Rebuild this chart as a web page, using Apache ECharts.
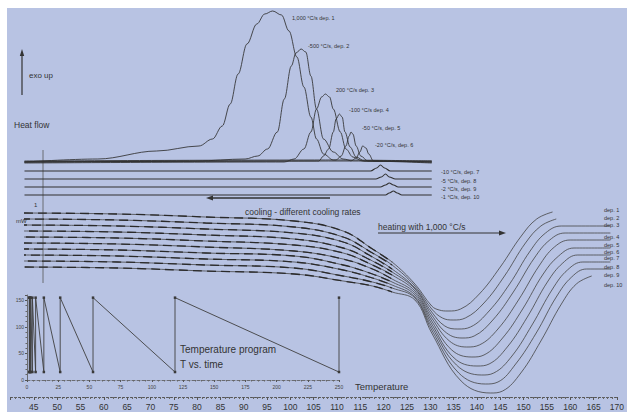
<!DOCTYPE html>
<html><head><meta charset="utf-8">
<script src="https://cdn.jsdelivr.net/npm/echarts@6/dist/echarts.min.js"></script>
<style>
html,body{margin:0;padding:0;background:#fff;}
#c{width:627px;height:412px;background:linear-gradient(#b8c3e3,#b8c3e3) 7px 8px/620px 404px no-repeat,#fff;}
</style></head><body><div id="c"></div>
<script>
// ---------- data (Temperature in °C, heat flow in arbitrary units) ----------
const tempTickLabels = [45,50,55,60,65,70,75,80,85,90,95,100,105,110,115,120,125,130,135,140,145,150,155,160,165,170];
const timeTickLabels = [0,25,50,75,100,125,150,175,200,225,250];
const progTempTickLabels = [0,50,100,150];

const coolLabels = ['1,000 °C/s dep. 1','-500 °C/s, dep. 2','200 °C/s dep. 3','-100 °C/s dep. 4','-50 °C/s, dep. 5','-20 °C/s, dep. 6','-10 °C/s, dep. 7','-5 °C/s, dep. 8','-2 °C/s, dep. 9','-1 °C/s, dep. 10'];
const heatLabels = ['dep. 1','dep. 2','dep. 3','dep. 4','dep. 5','dep. 6','dep. 7','dep. 8','dep. 9','dep. 10'];

const cool1 = [[43,23.5],[58.7,23.8],[71.3,24.6],[80.4,25.1],[83.3,25.8],[85.4,27.1],[87.1,29.3],[88.8,32.3],[90.7,35.3],[92.8,37.3],[94.5,38.3],[96.2,38.6],[98.1,38.2],[99.7,36.6],[101.4,34.0],[102.9,31.0],[104.4,28.0],[105.6,25.8],[107.1,24.3],[109.2,23.7],[130.3,23.6]];
const cool2 = [[43,23.5],[79.7,23.6],[90.3,23.8],[93.0,24.1],[95.1,24.8],[97.2,26.5],[98.7,29.8],[100.2,33.1],[101.2,34.4],[102.3,34.8],[103.3,34.5],[104.4,32.1],[105.6,28.8],[107.1,25.8],[109.2,24.5],[111.3,23.8],[113.4,23.6],[130.3,23.5]];
const cool3 = [[43,23.4],[98.7,23.5],[100.8,23.8],[102.9,24.8],[104.4,26.5],[105.6,28.8],[106.7,30.0],[107.5,30.3],[108.4,30.0],[109.2,28.8],[110.7,26.5],[111.9,24.8],[113.4,24.0],[115.5,23.6],[130.3,23.4]];
const cool4 = [[43,23.5],[106.1,23.6],[107.1,24.1],[108.2,24.8],[109.2,26.5],[109.8,27.8],[110.5,28.3],[111.1,28.0],[111.7,26.5],[112.8,25.0],[114.1,24.0],[115.9,23.6],[130.3,23.5]];
const cool5 = [[43,23.6],[109.8,23.7],[110.9,24.1],[111.9,25.1],[112.6,26.1],[113.0,26.5],[113.4,26.3],[114.1,25.1],[115.1,24.1],[116.6,23.6],[130.3,23.6]];
const cool6 = [[43,23.5],[113.0,23.6],[114.1,23.9],[114.9,24.5],[115.5,25.1],[116.2,24.9],[116.8,24.3],[117.8,23.6],[130.3,23.5]];
const cool7 = [[43,22.6],[117.2,22.6],[118.5,22.9],[119.3,23.2],[120.2,22.9],[121.4,22.6],[130.3,22.6]];
const cool8 = [[43,21.8],[118.3,21.8],[119.5,22.0],[120.4,22.3],[121.2,22.0],[122.5,21.8],[130.3,21.8]];
const cool9 = [[43,21.0],[119.3,21.0],[120.4,21.2],[121.2,21.4],[122.1,21.2],[123.1,21.0],[130.3,21.0]];
const cool10 = [[43,20.2],[120.4,20.2],[121.2,20.4],[122.1,20.6],[122.9,20.4],[123.9,20.2],[130.3,20.2]];

const heat1 = [[42.9,18.4],[62.9,18.3],[81.8,18.0],[100.8,17.6],[111.3,16.6],[117.6,14.8],[121.8,13.5],[126.7,11.3],[130.3,9.1],[131.9,8.7],[133.8,8.6],[136.5,8.8],[140.5,10.3],[145.0,13.0],[149.5,16.1],[152.8,17.8],[156.2,18.5]];
const heat2 = [[42.9,17.8],[62.9,17.7],[81.8,17.4],[100.8,17.0],[111.3,16.0],[117.6,14.4],[121.8,13.2],[126.7,11.1],[130.3,8.8],[132.6,7.9],[134.9,7.7],[137.5,7.9],[141.5,9.4],[145.9,12.1],[150.4,15.4],[153.7,17.1],[157.0,17.8]];
const heat3 = [[42.9,17.2],[62.9,17.1],[81.8,16.8],[100.8,16.4],[111.3,15.5],[117.6,14.0],[121.8,12.8],[126.7,10.9],[130.3,8.5],[133.1,7.1],[135.9,6.8],[138.6,7.0],[142.6,8.6],[147.0,11.3],[151.4,14.6],[154.7,16.4],[158.1,17.1],[168.6,17.1]];
const heat4 = [[42.9,16.6],[62.9,16.5],[81.8,16.2],[100.8,15.8],[111.3,14.9],[117.6,13.6],[121.8,12.5],[126.7,10.8],[130.3,8.2],[133.5,6.4],[136.8,5.9],[139.4,6.1],[143.4,7.7],[147.8,10.5],[152.3,13.9],[155.6,15.7],[158.9,16.4],[168.6,16.4]];
const heat5 = [[42.9,16.0],[62.9,15.9],[81.8,15.6],[100.8,15.2],[111.3,14.4],[117.6,13.2],[121.8,12.2],[126.7,10.6],[130.3,7.9],[134.1,5.6],[137.8,5.0],[140.5,5.2],[144.5,6.8],[148.9,9.7],[153.3,13.1],[156.6,15.0],[160.0,15.7],[168.6,15.7]];
const heat6 = [[42.9,15.4],[62.9,15.3],[81.8,15.0],[100.8,14.6],[111.3,13.8],[117.6,12.8],[121.8,11.8],[126.7,10.4],[130.3,7.6],[134.6,4.7],[138.9,4.0],[141.5,4.2],[145.5,5.9],[149.8,8.8],[154.2,12.3],[157.5,14.1],[160.8,14.9],[168.6,14.9]];
const heat7 = [[42.9,14.8],[62.9,14.7],[81.8,14.4],[100.8,14.1],[111.3,13.2],[117.6,12.3],[121.8,11.5],[126.7,10.2],[130.3,7.3],[135.1,3.9],[140.0,3.1],[142.6,3.3],[146.5,5.0],[150.8,8.0],[155.1,11.5],[158.4,13.4],[161.6,14.2],[168.6,14.2]];
const heat8 = [[42.9,14.2],[62.9,14.1],[81.8,13.8],[100.8,13.5],[111.3,12.7],[117.6,11.9],[121.8,11.2],[126.7,10.0],[130.3,7.0],[135.6,3.2],[141.0,2.2],[143.6,2.4],[147.5,4.1],[151.8,7.2],[156.2,10.8],[159.4,12.7],[162.7,13.5],[168.6,13.5]];
const heat9 = [[42.9,13.6],[62.9,13.5],[81.8,13.2],[100.8,12.9],[111.3,12.1],[117.6,11.5],[121.8,10.9],[126.7,9.9],[130.3,6.7],[136.1,2.4],[141.8,1.3],[144.5,1.5],[148.3,3.3],[152.7,6.4],[157.0,10.0],[160.3,12.0],[163.5,12.8],[168.6,12.8]];
const heat10 = [[42.9,13.0],[62.9,12.9],[81.8,12.6],[100.8,12.3],[111.3,11.6],[117.6,11.1],[121.8,10.5],[126.7,9.7],[130.3,6.4],[136.6,1.6],[142.9,0.4],[145.5,0.6],[149.4,2.4],[153.7,5.6],[158.1,9.3],[161.3,11.3],[164.6,12.1]];

// temperature program: time (s) vs. T (°C)
const programTime = [1.9,1.9,2.0,2.0,2.3,2.3,3.0,3.0,4.3,4.3,6.9,6.9,13.5,13.5,26.6,26.6,52.9,52.9,118.6,118.6,250,250];
const programTemp = [15,155,15,155,15,155,15,155,15,155,15,155,15,155,15,155,15,155,15,155,15,155];

// ---------- build chart ----------
const coolCurves = [cool1,cool2,cool3,cool4,cool5,cool6,cool7,cool8,cool9,cool10];
const heatCurves = [heat1,heat2,heat3,heat4,heat5,heat6,heat7,heat8,heat9,heat10];
const FONT = 'Liberation Sans, Arial, sans-serif';
const INK = '#333';

const series = [];
coolCurves.forEach((d, i) => {
  series.push({name: coolLabels[i], type: 'line', xAxisIndex: 0, yAxisIndex: 0, data: d,
    showSymbol: false, smooth: 0.35, smoothMonotone: 'x', silent: true,
    lineStyle: {color: '#303030', width: i < 6 ? 0.85 : 1.1}});
});
heatCurves.forEach((d, i) => {
  series.push({name: heatLabels[i], type: 'line', xAxisIndex: 0, yAxisIndex: 0, data: d,
    showSymbol: false, smooth: 0.4, silent: true,
    lineStyle: {color: '#444', width: 0.8}});
  series.push({name: heatLabels[i] + ' (dash)', type: 'line', xAxisIndex: 0, yAxisIndex: 0, data: d.slice(0, 7),
    showSymbol: false, smooth: 0.4, silent: true,
    lineStyle: {color: '#2a2a2a', width: 1.3, type: [9, 5], dashOffset: i * 3}});
});
series.push({name: 'Temperature program', type: 'line', xAxisIndex: 1, yAxisIndex: 1,
  data: programTime.map((t, i) => [t, programTemp[i]]),
  showSymbol: true, symbol: 'rect', symbolSize: 2.5, silent: true,
  itemStyle: {color: '#3a3a3a'}, lineStyle: {color: '#3f3f3f', width: 0.9}});

// annotations (pixel positions)
const txt = (x, y, text, size, extra) => Object.assign({type: 'text', x, y, silent: true,
  style: Object.assign({text, fill: INK, fontSize: size, fontFamily: FONT, verticalAlign: 'middle'}, extra || {})});
const ln = (x1, y1, x2, y2, w, c) => ({type: 'line', silent: true, shape: {x1, y1, x2, y2}, style: {stroke: c || INK, lineWidth: w}});
const tri = (pts) => ({type: 'polygon', silent: true, shape: {points: pts}, style: {fill: INK}});

const peakLabelPos = [[292,18],[308,46],[336,90],[349,110],[362,128],[375,145],[441,172],[441,181],[441,189],[441,197]];
const heatLabelPos = [[604,210],[604,218],[604,225],[604,237],[604,245],[604,252],[604,258],[604,267],[604,275],[604,285]];

const elements = [
  ln(22, 54, 22, 95, 1.2), tri([[22,49],[19.8,56],[24.2,56]]),
  txt(29, 75, 'exo up', 8),
  txt(14, 125, 'Heat flow', 8.5),
  ln(43, 150, 43, 283, 0.8, '#555'),
  txt(34, 205, '1', 6),
  txt(16, 221, 'mW', 6),
  ln(212, 198, 330, 198, 1.4), tri([[206,198],[213,195.5],[213,200.5]]),
  txt(245, 212, 'cooling - different cooling rates', 8.5),
  txt(378, 227, 'heating with 1,000 °C/s', 8.5),
  ln(378, 233, 500, 233, 1), tri([[506,233],[499,230.5],[499,235.5]]),
  txt(180, 349, 'Temperature program', 10),
  txt(180, 364, 'T vs. time', 10),
  txt(355, 386, 'Temperature', 9.5)
];
coolLabels.forEach((t, i) => elements.push(txt(peakLabelPos[i][0], peakLabelPos[i][1], t, 5.5)));
heatLabels.forEach((t, i) => elements.push(txt(heatLabelPos[i][0], heatLabelPos[i][1], t, 5.5)));

const chart = echarts.init(document.getElementById('c'), null, {renderer: 'svg', width: 627, height: 412});
chart.setOption({
  backgroundColor: 'transparent',
  animation: false,
  grid: [
    {left: 10.5, top: 7, width: 617.5, height: 390},
    {left: 27, top: 295, width: 312, height: 85}
  ],
  xAxis: [
    {type: 'value', gridIndex: 0, min: 40, max: 170, interval: 5,
      axisLine: {onZero: false, lineStyle: {color: '#555', width: 1, type: [2, 2]}},
      axisTick: {show: true, length: 3, lineStyle: {color: '#555'}},
      minorTick: {show: true, splitNumber: 5, length: 2, lineStyle: {color: '#666'}},
      splitLine: {show: false},
      axisLabel: {fontSize: 8.5, color: '#333', fontFamily: FONT, margin: 5,
        formatter: v => tempTickLabels.includes(v) ? String(v) : ''}},
    {type: 'value', gridIndex: 1, min: 0, max: 250, interval: 25,
      axisLine: {onZero: false, lineStyle: {color: '#555', width: 0.8, type: [3, 2]}},
      axisTick: {show: true, length: 2, lineStyle: {color: '#555'}},
      minorTick: {show: true, splitNumber: 5, length: 1.5, lineStyle: {color: '#666'}},
      splitLine: {show: false},
      axisLabel: {fontSize: 5, color: '#444', fontFamily: FONT, margin: 4,
        formatter: v => timeTickLabels.includes(v) ? String(v) : ''}}
  ],
  yAxis: [
    {type: 'value', gridIndex: 0, min: 0, max: 39, show: false, splitLine: {show: false}},
    {type: 'value', gridIndex: 1, min: 0, max: 160, interval: 50,
      axisLine: {show: true, onZero: false, lineStyle: {color: '#555', width: 0.8}},
      axisTick: {show: true, length: 2, lineStyle: {color: '#555'}},
      minorTick: {show: true, splitNumber: 5, length: 1.5, lineStyle: {color: '#666'}},
      splitLine: {show: false},
      axisLabel: {fontSize: 5, color: '#444', fontFamily: FONT, margin: 3,
        formatter: v => progTempTickLabels.includes(v) ? String(v) : ''}}
  ],
  series,
  graphic: {elements}
});
</script></body></html>
